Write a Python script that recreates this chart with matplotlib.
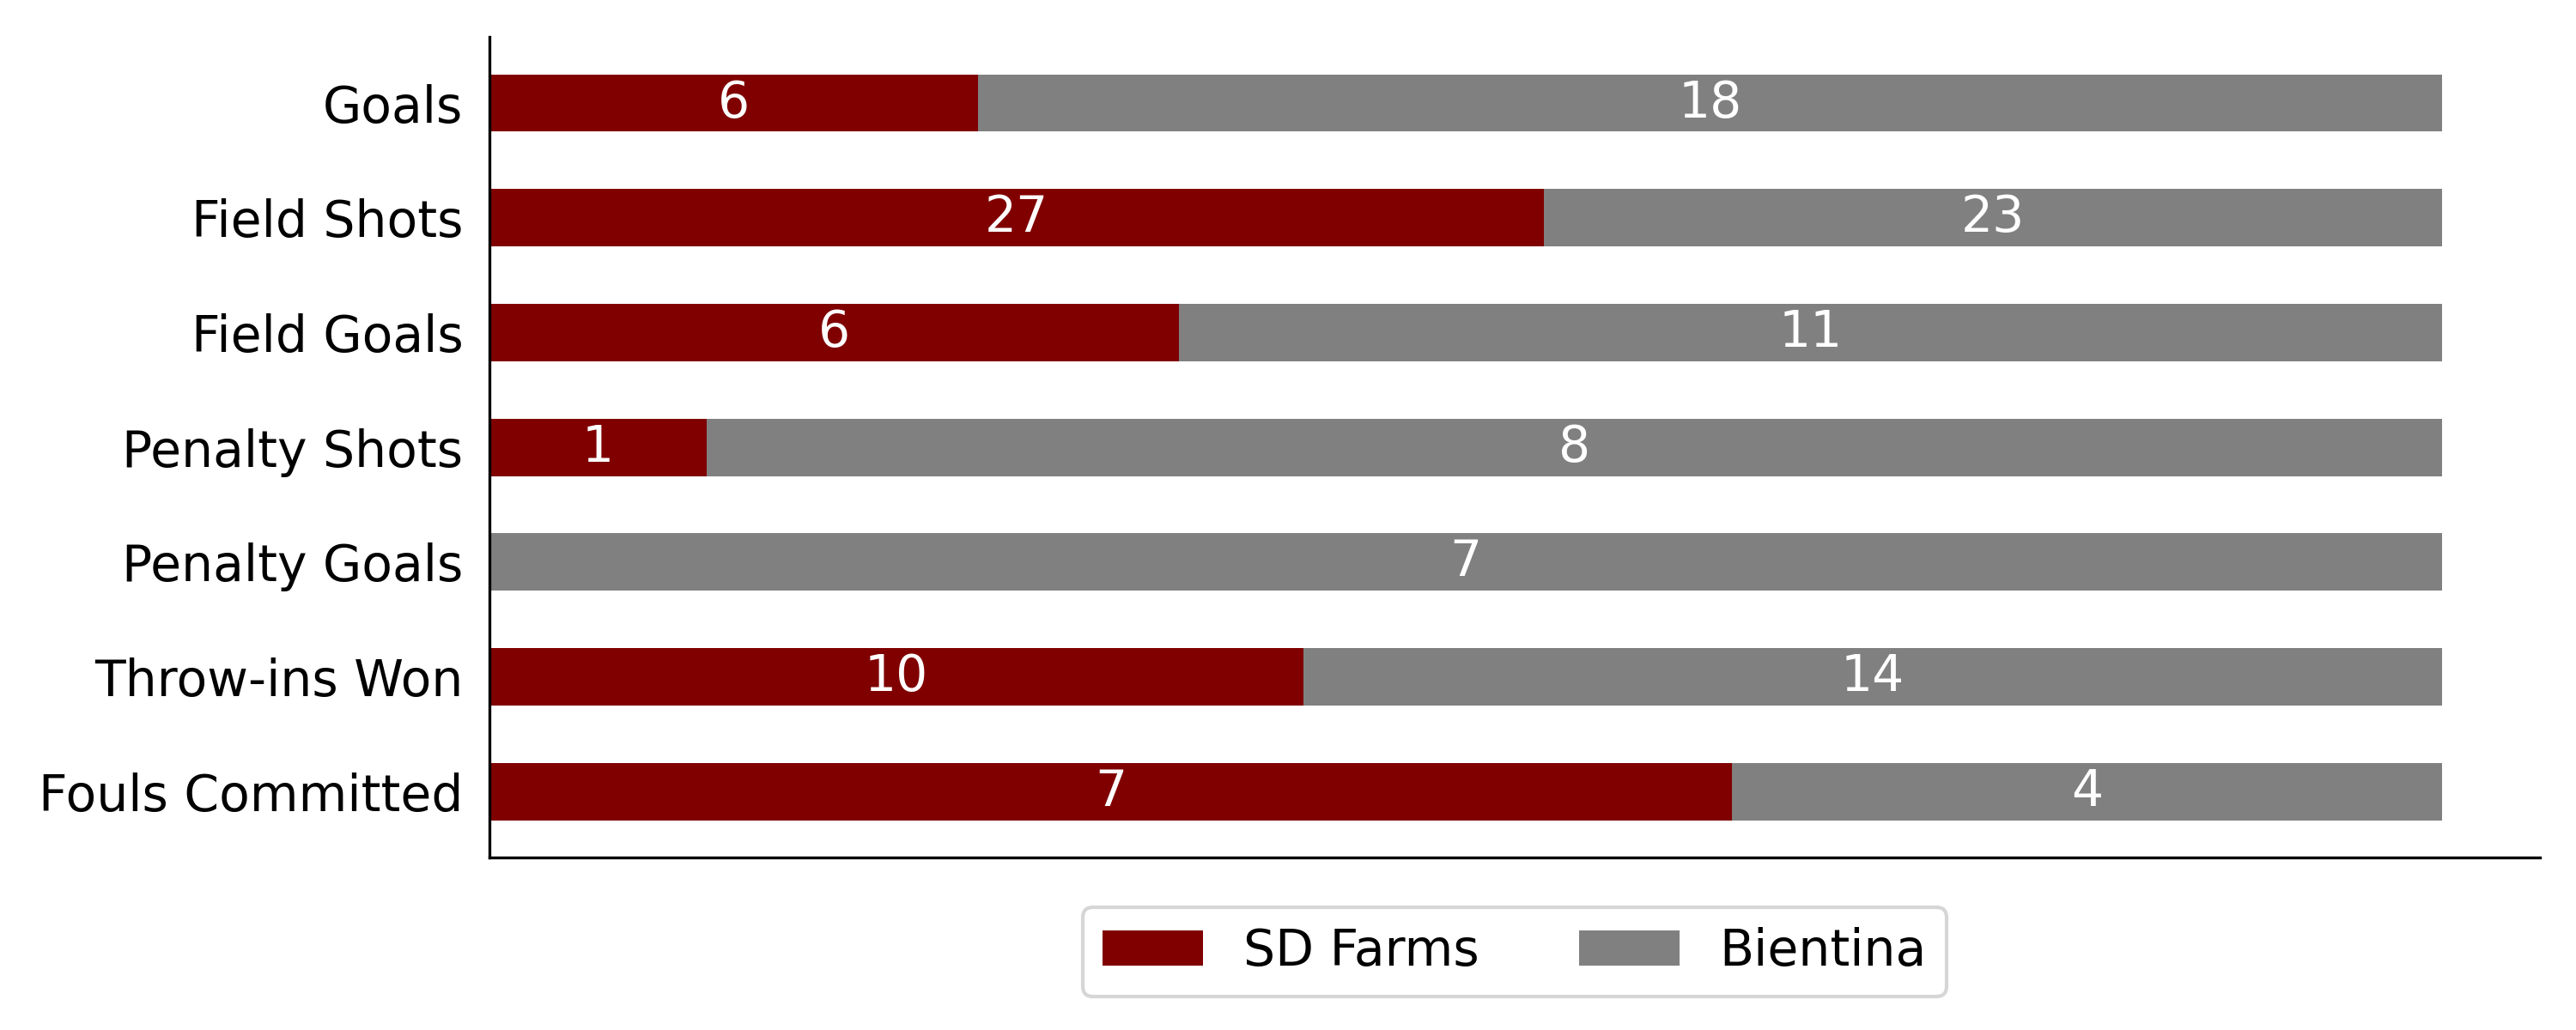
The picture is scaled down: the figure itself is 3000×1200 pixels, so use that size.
import matplotlib.pyplot as plt
import numpy as np

# match stats
categories = ['Goals', 'Field Shots', 'Field Goals', 'Penalty Shots',
              'Penalty Goals', 'Throw-ins Won', 'Fouls Committed']
sd_farms = [6, 27, 6, 1, 0, 10, 7]
bientina = [18, 23, 11, 8, 7, 14, 4]
teams = ['SD Farms', 'Bientina']
colors = ['#800000', '#808080']

sd = np.array(sd_farms, dtype=float)
bi = np.array(bientina, dtype=float)
total = sd + bi
sd_share = sd / total
bi_share = bi / total

fig, ax = plt.subplots(figsize=(10, 4), dpi=300)
fig.subplots_adjust(left=0.19, right=0.986, top=0.964, bottom=0.1675)

y = np.arange(len(categories))
b1 = ax.barh(y, sd_share, height=0.5, color=colors[0], label=teams[0])
b2 = ax.barh(y, bi_share, height=0.5, left=sd_share, color=colors[1], label=teams[1])

# value labels in the middle of each piece
for i in range(len(categories)):
    if sd[i] > 0:
        ax.text(sd_share[i] / 2, y[i], str(sd_farms[i]), color='white',
                ha='center', va='center', fontsize=14)
    if bi[i] > 0:
        ax.text(sd_share[i] + bi_share[i] / 2, y[i], str(bientina[i]), color='white',
                ha='center', va='center', fontsize=14)

ax.set_yticks(y)
ax.set_yticklabels(categories, fontsize=14)
ax.invert_yaxis()
ax.set_xlim(0, 1.05)
ax.set_xticks([])
ax.tick_params(axis='y', length=0, pad=7.3)
ax.spines['top'].set_visible(False)
ax.spines['right'].set_visible(False)

ax.legend(loc='upper center', bbox_to_anchor=(0.5, -0.03), ncol=2, fontsize=14,
          frameon=True, columnspacing=2.0)

plt.savefig('out.png', dpi=300)
